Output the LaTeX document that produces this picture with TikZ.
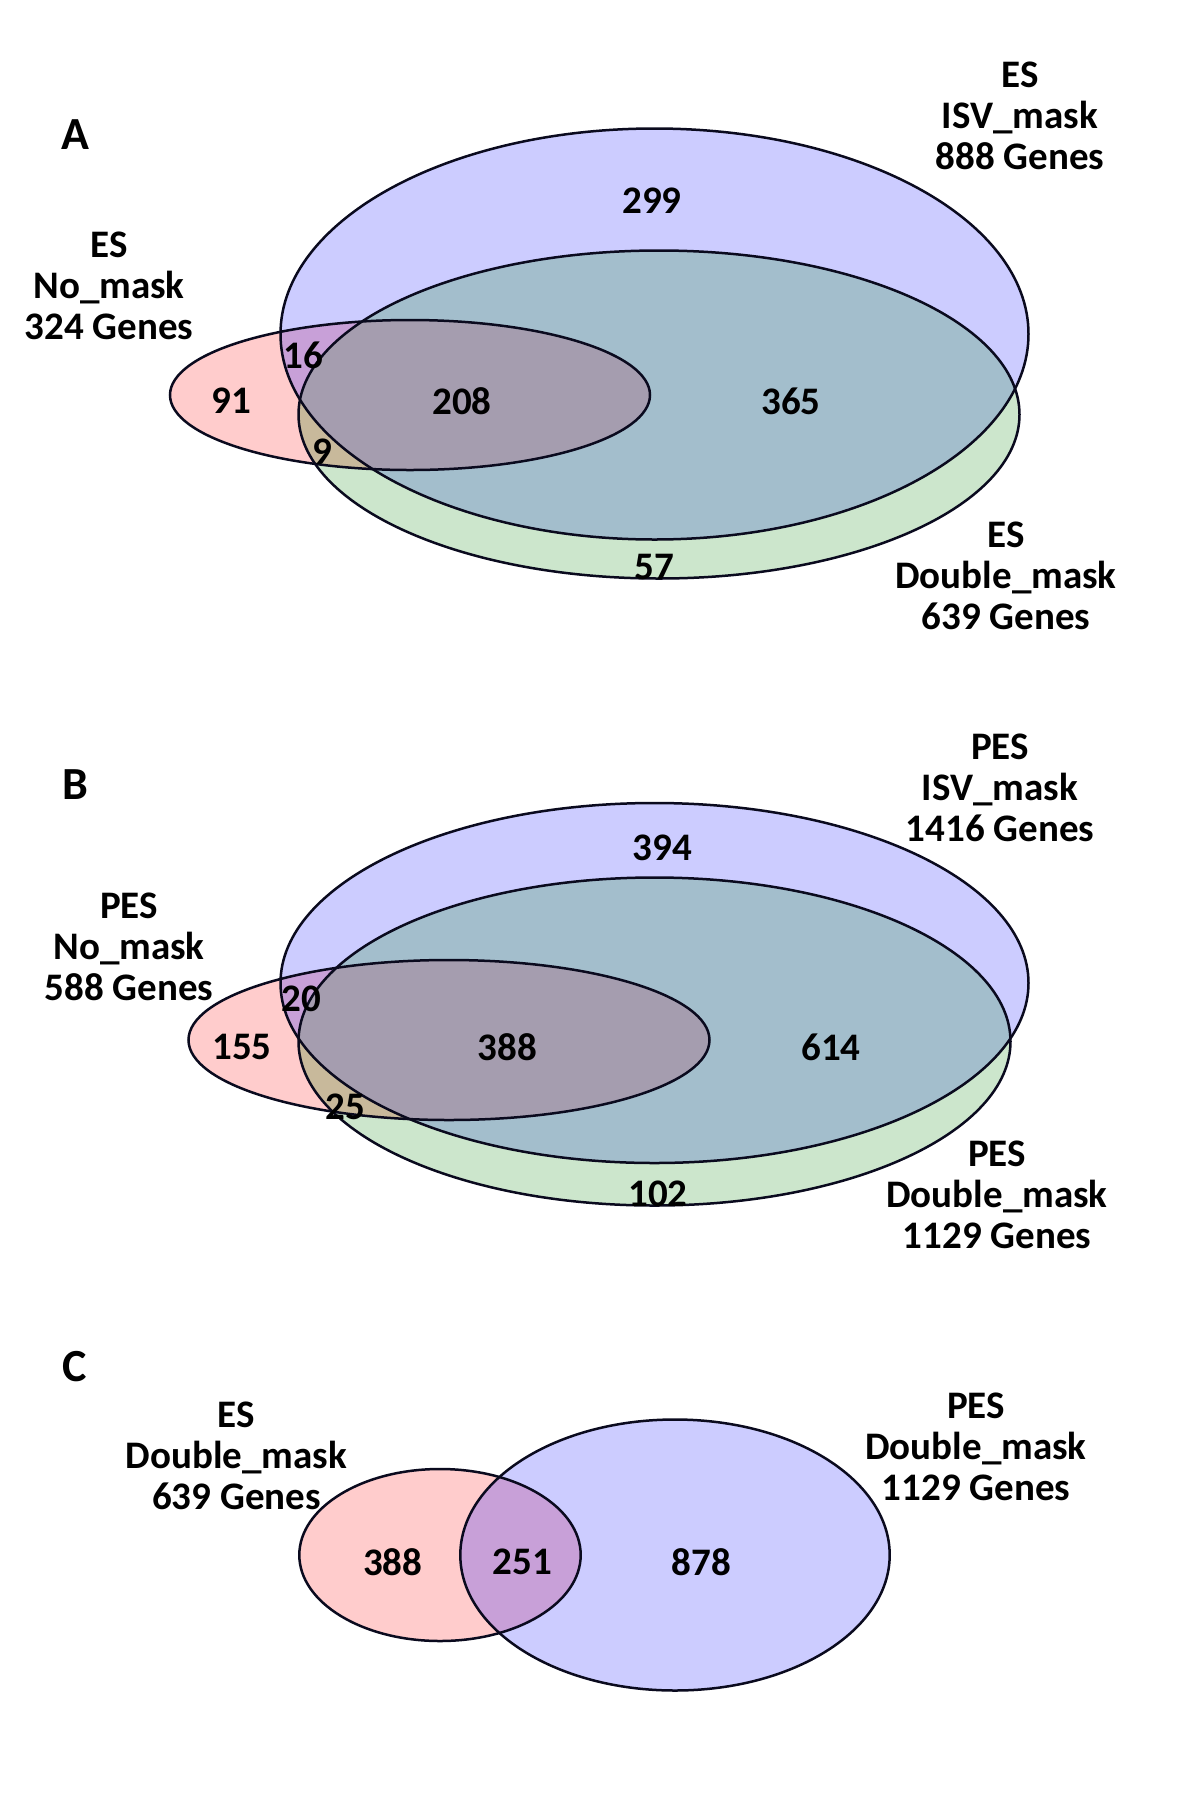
\documentclass[tikz,border=0pt]{standalone}
\usepackage{fontspec}
\setmainfont{Carlito}
\definecolor{blueC}{HTML}{CCCCFF}
\definecolor{greenC}{HTML}{CCE6CC}
\definecolor{redC}{HTML}{FFCCCC}
\definecolor{bgC}{HTML}{A3BECC}
\definecolor{rbC}{HTML}{C8A0D8}
\definecolor{rgC}{HTML}{C8B99B}
\definecolor{rbgC}{HTML}{A59DAF}
\definecolor{lineC}{HTML}{0A0A1E}
\tikzset{
  lbl/.style={align=center,font=\fontsize{19.5}{20.5}\selectfont\bfseries,inner sep=0pt},
  num/.style={font=\fontsize{19.5}{20.5}\selectfont\bfseries,inner sep=0pt},
  panel/.style={font=\fontsize{23}{24}\selectfont\bfseries,inner sep=0pt},
  outl/.style={draw=lineC,line width=1.25pt}
}
\begin{document}
\begin{tikzpicture}[x=0.5pt,y=-0.5pt]
\useasboundingbox (0,0) rectangle (1200,1800);
\fill[white] (0,0) rectangle (1200,1800);
% ---------- Panel A
\def\AB{(654.5,334) ellipse [x radius=187pt, y radius=102.75pt]}
\def\AG{(659,414.5) ellipse [x radius=180.25pt, y radius=82pt]}
\def\AR{(410,395) ellipse [x radius=120pt, y radius=37.5pt]}
\fill[blueC] \AB;
\fill[greenC] \AG;
\fill[redC] \AR;
\begin{scope}\clip \AB; \fill[bgC] \AG; \end{scope}
\begin{scope}\clip \AB; \fill[rbC] \AR; \end{scope}
\begin{scope}\clip \AG; \fill[rgC] \AR; \end{scope}
\begin{scope}\clip \AB; \clip \AG; \fill[rbgC] \AR; \end{scope}
\draw[outl] \AB; \draw[outl] \AG; \draw[outl] \AR;
\node[panel] (pA) at (75,135) {A};
\node[lbl] (aIsv) at (1020,116) {ES\\ISV\_mask\\888 Genes};
\node[lbl] (aNo) at (109,286) {ES\\No\_mask\\324 Genes};
\node[lbl] (aDbl) at (1006,576) {ES\\Double\_mask\\639 Genes};
\node[num] (a299) at (652,201) {299};
\node[num] (a16) at (303,355) {16};
\node[num] (a91) at (231,401) {91};
\node[num] (a208) at (462,401) {208};
\node[num] (a365) at (791,401) {365};
\node[num] (a9) at (322,452) {9};
\node[num] (a57) at (654.5,567) {57};
% ---------- Panel B
\def\BB{(654.5,983) ellipse [x radius=187pt, y radius=90pt]}
\def\BG{(654.5,1041.5) ellipse [x radius=178pt, y radius=82pt]}
\def\BR{(449,1040) ellipse [x radius=130.25pt, y radius=40pt]}
\fill[blueC] \BB;
\fill[greenC] \BG;
\fill[redC] \BR;
\begin{scope}\clip \BB; \fill[bgC] \BG; \end{scope}
\begin{scope}\clip \BB; \fill[rbC] \BR; \end{scope}
\begin{scope}\clip \BG; \fill[rgC] \BR; \end{scope}
\begin{scope}\clip \BB; \clip \BG; \fill[rbgC] \BR; \end{scope}
\draw[outl] \BB; \draw[outl] \BG; \draw[outl] \BR;
\node[panel] (pB) at (75,785) {B};
\node[lbl] (bIsv) at (1000,788) {PES\\ISV\_mask\\1416 Genes};
\node[lbl] (bNo) at (129,947) {PES\\No\_mask\\588 Genes};
\node[lbl] (bDbl) at (997,1195) {PES\\Double\_mask\\1129 Genes};
\node[num] (b394) at (662.5,847.5) {394};
\node[num] (b20) at (301,999) {20};
\node[num] (b155) at (242,1047) {155};
\node[num] (b388) at (507.5,1047) {388};
\node[num] (b614) at (831,1047) {614};
\node[num] (b25) at (345.6,1107) {25};
\node[num] (b102) at (658,1194) {102};
% ---------- Panel C
\def\CR{(440,1555) ellipse [x radius=70.35pt, y radius=43pt]}
\def\CB{(675,1555) ellipse [x radius=107.35pt, y radius=67.75pt]}
\fill[redC] \CR;
\fill[blueC] \CB;
\begin{scope}\clip \CB; \fill[rbC] \CR; \end{scope}
\draw[outl] \CR; \draw[outl] \CB;
\node[panel] (pC) at (75,1366.5) {C};
\node[lbl] (cEs) at (236.5,1456) {ES\\Double\_mask\\639 Genes};
\node[lbl] (cPes) at (976,1447) {PES\\Double\_mask\\1129 Genes};
\node[num] (c388) at (392.7,1561.7) {388};
\node[num] (c251) at (522.5,1561.7) {251};
\node[num] (c878) at (701.6,1561.7) {878};
\end{tikzpicture}
\end{document}
